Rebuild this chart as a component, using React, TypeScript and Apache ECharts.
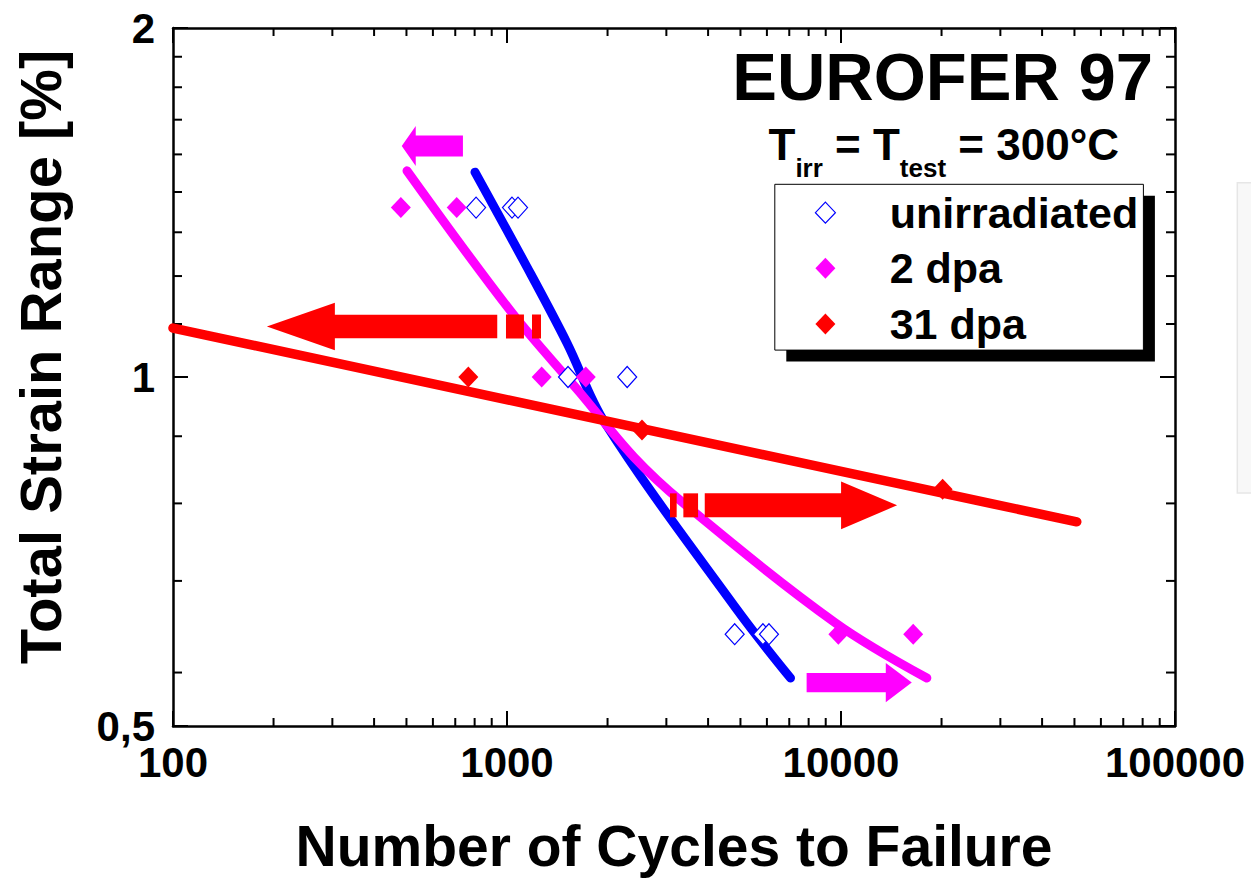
import React, { useEffect, useRef } from "react";
import * as echarts from "echarts";

const FONT = '"Liberation Sans", Arial, Helvetica, sans-serif';

// ---- tick labels ----
const xTickLabels = ["100", "1000", "10000", "100000"];
const yTickLabels = ["0,5", "1", "2"];
const xMinorTicks = [
  200, 300, 400, 500, 600, 700, 800, 900,
  2000, 3000, 4000, 5000, 6000, 7000, 8000, 9000,
  20000, 30000, 40000, 50000, 60000, 70000, 80000, 90000,
];
const yMinorTicks = [0.556, 0.667, 0.778, 0.889, 1.111, 1.222, 1.333, 1.444, 1.556, 1.667, 1.778, 1.889];

// ---- measured data ----
const unirrN = [808, 1035, 1079, 1523, 2290, 4805, 5838, 6086];
const unirrStrain = [1.4, 1.4, 1.4, 1.0, 1.0, 0.6, 0.6, 0.6];
const dpa2N = [481, 707, 1270, 1721, 9820, 16450];
const dpa2Strain = [1.4, 1.4, 1.0, 1.0, 0.6, 0.6];
const dpa31N = [766, 2536, 20150];
const dpa31Strain = [1.0, 0.9, 0.8];

// ---- fit curves ----
const fitUnirrN = [802, 1148, 1512, 1965, 4883, 7060];
const fitUnirrStrain = [1.502, 1.244, 1.07, 0.913, 0.63, 0.55];
const fit2N = [502, 1035, 1656, 2399, 3365, 9596, 18070];
const fit2Strain = [1.506, 1.136, 0.969, 0.853, 0.779, 0.614, 0.55];
const fit31N = [100, 50800];
const fit31Strain = [1.102, 0.75];

// ---- run-out arrows: [tip N, strain, tail N] ----
const arrowsMagenta = [
  [484, 1.582, 738],
  [16290, 0.545, 7890],
];
const arrowsRed = [
  [191, 1.1055, 935],
  [14720, 0.775, 3909],
];
// dashed tail blocks of red arrows: [from N, strain, to N]
const redBlocks = [
  [993, 1.1055, 1124],
  [1188, 1.1055, 1264],
  [3076, 0.775, 3221],
  [3373, 0.775, 3733],
];

// ---- styles (sizes in px) ----
const arrowShapeMagenta = [
  { head: 14, headHalf: 20, shaftHalf: 10.5 },
  { head: 26, headHalf: 19.7, shaftHalf: 9.7 },
];
const arrowShapeRed = [
  { head: 68, headHalf: 23.7, shaftHalf: 11.7 },
  { head: 56, headHalf: 23.8, shaftHalf: 12 },
];

const BLUE = "#0000ff";
const MAGENTA = "#ff00ff";
const RED = "#ff0000";

function zip(a: number[], b: number[]) {
  return a.map((v, i) => [v, b[i]]);
}

function arrowSeries(name: string, data: number[][], shapes: any[], color: string) {
  return {
    type: "custom",
    name,
    z: 4,
    data,
    renderItem: (params: any, api: any) => {
      const s = shapes[params.dataIndex];
      const tip = api.coord([api.value(0), api.value(1)]);
      const tail = api.coord([api.value(2), api.value(1)]);
      const dir = Math.sign(tail[0] - tip[0]);
      const bx = tip[0] + dir * s.head;
      const y = tip[1];
      const points = [
        [tip[0], y],
        [bx, y - s.headHalf],
        [bx, y - s.shaftHalf],
        [tail[0], y - s.shaftHalf],
        [tail[0], y + s.shaftHalf],
        [bx, y + s.shaftHalf],
        [bx, y + s.headHalf],
      ];
      return { type: "polygon", shape: { points }, style: { fill: color } };
    },
  };
}

export default function App() {
  const ref = useRef<HTMLDivElement>(null);
  useEffect(() => {
    document.body.style.margin = "0";
    const chart = echarts.init(ref.current!, null, { renderer: "svg" });

    const ctx = document.createElement("canvas").getContext("2d")!;
    const tw = (t: string, f: string) => {
      ctx.font = f;
      return ctx.measureText(t).width;
    };

    const mainF = `bold 44px ${FONT}`;
    const subF = `bold 26px ${FONT}`;
    const parts = [
      { t: "T", sub: false },
      { t: "irr", sub: true },
      { t: " = T", sub: false },
      { t: "test", sub: true },
      { t: " = 300°C", sub: false },
    ];
    let cx = 768.5;
    const subtitle: any[] = parts.map((p) => {
      const f = p.sub ? subF : mainF;
      const el = {
        type: "text",
        x: cx,
        y: p.sub ? 167.7 : 144.7,
        style: {
          text: p.t,
          font: f,
          fill: "#000",
          textAlign: "left",
          textVerticalAlign: "middle",
          align: "left",
          verticalAlign: "middle",
        },
      };
      cx += tw(p.t, f);
      return el;
    });

    const legendItems = [
      { label: "unirradiated", cy: 212.7, fill: "#fff", stroke: BLUE },
      { label: "2 dpa", cy: 268.3, fill: MAGENTA, stroke: MAGENTA },
      { label: "31 dpa", cy: 324, fill: RED, stroke: RED },
    ];
    const legendEls: any[] = [
      { type: "rect", shape: { x: 786.3, y: 195.8, width: 368.6, height: 165.8 }, style: { fill: "#000" } },
      {
        type: "rect",
        shape: { x: 774.8, y: 184.3, width: 368.6, height: 165.8 },
        style: { fill: "#fff", stroke: "#000", lineWidth: 1 },
      },
    ];
    legendItems.forEach((it) => {
      const lx = 825.4;
      legendEls.push({
        type: "polygon",
        shape: {
          points: [
            [lx, it.cy - 10.5],
            [lx + 10, it.cy],
            [lx, it.cy + 10.5],
            [lx - 10, it.cy],
          ],
        },
        style: { fill: it.fill, stroke: it.stroke, lineWidth: it.fill === "#fff" ? 1.2 : 0 },
      });
      legendEls.push({
        type: "text",
        x: 889.7,
        y: it.cy,
        style: {
          text: it.label,
          font: `bold 43px ${FONT}`,
          fill: "#000",
          textAlign: "left",
          textVerticalAlign: "middle",
          align: "left",
          verticalAlign: "middle",
        },
      });
    });

    const axisLine = { show: true, lineStyle: { color: "#000", width: 2.5 } };
    const axisTick = { show: true, inside: true, length: 15, lineStyle: { color: "#000", width: 2 } };

    const xBase: any = {
      type: "log",
      logBase: 10,
      min: 100,
      max: 100000,
      interval: 1,
      axisLine,
      axisTick,
      splitLine: { show: false },
      minorTick: { show: false },
      minorSplitLine: { show: false },
    };
    const yBase: any = {
      type: "log",
      logBase: 2,
      min: 0.5,
      max: 2,
      interval: 1,
      axisLine,
      axisTick,
      splitLine: { show: false },
      minorTick: { show: false },
      minorSplitLine: { show: false },
    };

    const option: any = {
      animation: false,
      backgroundColor: "#fff",
      textStyle: { fontFamily: FONT },
      grid: { left: 173, top: 28, right: 76, bottom: 153, containLabel: false },
      xAxis: [
        {
          ...xBase,
          position: "bottom",
          name: "Number of Cycles to Failure",
          nameLocation: "middle",
          nameGap: 91,
          nameTextStyle: { fontSize: 57, fontWeight: "bold", color: "#000", fontFamily: FONT },
          axisLabel: {
            show: true,
            fontSize: 42,
            fontWeight: "bold",
            color: "#000",
            fontFamily: FONT,
            margin: 15,
            formatter: (v: number) => xTickLabels[Math.round(Math.log10(v)) - 2] ?? "",
          },
        },
        { ...xBase, position: "top", axisLabel: { show: false } },
      ],
      yAxis: [
        {
          ...yBase,
          position: "left",
          axisLabel: {
            show: true,
            fontSize: 42,
            fontWeight: "bold",
            color: "#000",
            fontFamily: FONT,
            margin: 18,
            padding: [0, 0, 8, 0],
            formatter: (v: number) => yTickLabels[Math.round(Math.log2(v)) + 1] ?? "",
          },
        },
        { ...yBase, position: "right", axisLabel: { show: false } },
      ],
      graphic: [
        {
          type: "rect",
          shape: { x: 1237.3, y: 182.7, width: 30, height: 310.3 },
          style: { fill: "#f8f8f8", stroke: "#e6e6e6", lineWidth: 1.5 },
        },
        {
          type: "text",
          x: 1153,
          y: 76.8,
          style: {
            text: "EUROFER 97",
            font: `bold 67px ${FONT}`,
            fill: "#000",
            textAlign: "right",
            textVerticalAlign: "middle",
            align: "right",
            verticalAlign: "middle",
          },
        },
        ...subtitle,
        ...legendEls,
        {
          type: "text",
          x: 40,
          y: 357,
          rotation: Math.PI / 2,
          style: {
            text: "Total Strain Range [%]",
            font: `bold 58px ${FONT}`,
            fill: "#000",
            textAlign: "center",
            textVerticalAlign: "middle",
            align: "center",
            verticalAlign: "middle",
          },
        },
      ],
      series: [
        {
          type: "custom",
          name: "xMinorTicks",
          z: 1,
          data: xMinorTicks.map((v) => [v, 1]),
          renderItem: (params: any, api: any) => {
            const cs = params.coordSys;
            const px = api.coord([api.value(0), 1])[0];
            const b = cs.y + cs.height;
            return {
              type: "group",
              children: [
                { type: "line", shape: { x1: px, y1: b, x2: px, y2: b - 8 }, style: { stroke: "#000", lineWidth: 2 } },
                { type: "line", shape: { x1: px, y1: cs.y, x2: px, y2: cs.y + 8 }, style: { stroke: "#000", lineWidth: 2 } },
              ],
            };
          },
        },
        {
          type: "custom",
          name: "yMinorTicks",
          z: 1,
          data: yMinorTicks.map((v) => [100, v]),
          renderItem: (params: any, api: any) => {
            const cs = params.coordSys;
            const py = api.coord([100, api.value(1)])[1];
            const r = cs.x + cs.width;
            return {
              type: "group",
              children: [
                { type: "line", shape: { x1: cs.x, y1: py, x2: cs.x + 9, y2: py }, style: { stroke: "#000", lineWidth: 2 } },
                { type: "line", shape: { x1: r, y1: py, x2: r - 9, y2: py }, style: { stroke: "#000", lineWidth: 2 } },
              ],
            };
          },
        },
        {
          type: "line",
          name: "fit unirradiated",
          z: 2,
          data: zip(fitUnirrN, fitUnirrStrain),
          smooth: 0.35,
          showSymbol: false,
          symbol: "none",
          lineStyle: { color: BLUE, width: 9, cap: "round", join: "round" },
        },
        {
          type: "line",
          name: "fit 2 dpa",
          z: 2,
          data: zip(fit2N, fit2Strain),
          smooth: 0.35,
          showSymbol: false,
          symbol: "none",
          lineStyle: { color: MAGENTA, width: 9, cap: "round", join: "round" },
        },
        {
          type: "line",
          name: "fit 31 dpa",
          z: 2,
          data: zip(fit31N, fit31Strain),
          showSymbol: false,
          symbol: "none",
          lineStyle: { color: RED, width: 9.5, cap: "round" },
        },
        arrowSeries("arrows 2 dpa", arrowsMagenta, arrowShapeMagenta, MAGENTA),
        arrowSeries("arrows 31 dpa", arrowsRed, arrowShapeRed, RED),
        {
          type: "custom",
          name: "arrow tails 31 dpa",
          z: 4,
          data: redBlocks,
          renderItem: (params: any, api: any) => {
            const a = api.coord([api.value(0), api.value(1)]);
            const b = api.coord([api.value(2), api.value(1)]);
            return {
              type: "rect",
              shape: { x: Math.min(a[0], b[0]), y: a[1] - 12, width: Math.abs(b[0] - a[0]), height: 24 },
              style: { fill: RED },
            };
          },
        },
        {
          type: "scatter",
          name: "unirradiated",
          z: 5,
          data: zip(unirrN, unirrStrain),
          symbol: "diamond",
          symbolSize: [19, 21],
          itemStyle: { color: "#fff", borderColor: BLUE, borderWidth: 1.2, opacity: 1 },
        },
        {
          type: "scatter",
          name: "2 dpa",
          z: 5,
          data: zip(dpa2N, dpa2Strain),
          symbol: "diamond",
          symbolSize: [20, 21],
          itemStyle: { color: MAGENTA, opacity: 1 },
        },
        {
          type: "scatter",
          name: "31 dpa",
          z: 5,
          data: zip(dpa31N, dpa31Strain),
          symbol: "diamond",
          symbolSize: [20, 21],
          itemStyle: { color: RED, opacity: 1 },
        },
      ],
    };

    chart.setOption(option);
    return () => chart.dispose();
  }, []);
  return <div ref={ref} style={{ width: 1251, height: 879 }} />;
}
